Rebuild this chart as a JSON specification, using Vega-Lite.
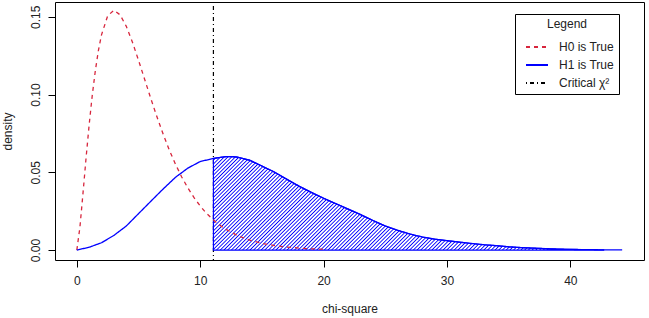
{
  "$schema": "https://vega.github.io/schema/vega-lite/v6.json",
  "width": 589,
  "height": 258,
  "autosize": {"type": "none"},
  "padding": {"left": 55, "top": 2, "right": 5, "bottom": 58},
  "background": "white",
  "config": {
    "view": {"stroke": "#000", "strokeWidth": 1},
    "font": "Liberation Sans",
    "axis": {"domain": false, "grid": false, "tickColor": "#000", "tickSize": 7, "labelFont": "Liberation Sans", "labelFontSize": 12, "labelColor": "#222", "titleFont": "Liberation Sans", "titleFontSize": 12, "titleFontWeight": "normal", "titleColor": "#222"}
  },
  "datasets": {
    "crit": [{"series": "Critical χ²", "x": 11.07}],
    "curves": [
      {"series": "H0 is True", "x": 0, "y": 0},
      {"series": "H0 is True", "x": 0.25, "y": 0.0147},
      {"series": "H0 is True", "x": 0.5, "y": 0.0366},
      {"series": "H0 is True", "x": 0.75, "y": 0.0594},
      {"series": "H0 is True", "x": 1, "y": 0.0807},
      {"series": "H0 is True", "x": 1.25, "y": 0.0995},
      {"series": "H0 is True", "x": 1.5, "y": 0.1154},
      {"series": "H0 is True", "x": 1.75, "y": 0.1284},
      {"series": "H0 is True", "x": 2, "y": 0.1384},
      {"series": "H0 is True", "x": 2.5, "y": 0.1506},
      {"series": "H0 is True", "x": 3, "y": 0.1542},
      {"series": "H0 is True", "x": 3.5, "y": 0.1513},
      {"series": "H0 is True", "x": 4, "y": 0.144},
      {"series": "H0 is True", "x": 4.5, "y": 0.1338},
      {"series": "H0 is True", "x": 5, "y": 0.122},
      {"series": "H0 is True", "x": 5.5, "y": 0.1097},
      {"series": "H0 is True", "x": 6, "y": 0.0973},
      {"series": "H0 is True", "x": 6.5, "y": 0.0855},
      {"series": "H0 is True", "x": 7, "y": 0.0744},
      {"series": "H0 is True", "x": 7.5, "y": 0.0642},
      {"series": "H0 is True", "x": 8, "y": 0.0551},
      {"series": "H0 is True", "x": 8.5, "y": 0.047},
      {"series": "H0 is True", "x": 9, "y": 0.0399},
      {"series": "H0 is True", "x": 9.5, "y": 0.0337},
      {"series": "H0 is True", "x": 10, "y": 0.0283},
      {"series": "H0 is True", "x": 10.5, "y": 0.0237},
      {"series": "H0 is True", "x": 11, "y": 0.0198},
      {"series": "H0 is True", "x": 11.5, "y": 0.0165},
      {"series": "H0 is True", "x": 12, "y": 0.0137},
      {"series": "H0 is True", "x": 13, "y": 0.0094},
      {"series": "H0 is True", "x": 14, "y": 0.0064},
      {"series": "H0 is True", "x": 15, "y": 0.0043},
      {"series": "H0 is True", "x": 16, "y": 0.0029},
      {"series": "H0 is True", "x": 17, "y": 0.0019},
      {"series": "H0 is True", "x": 18, "y": 0.0013},
      {"series": "H0 is True", "x": 19, "y": 0.0008},
      {"series": "H0 is True", "x": 20.2, "y": 0.0005},
      {"series": "H1 is True", "x": 0, "y": 0},
      {"series": "H1 is True", "x": 1, "y": 0.0018},
      {"series": "H1 is True", "x": 2, "y": 0.0047},
      {"series": "H1 is True", "x": 3, "y": 0.0094},
      {"series": "H1 is True", "x": 4, "y": 0.0154},
      {"series": "H1 is True", "x": 5, "y": 0.0234},
      {"series": "H1 is True", "x": 6, "y": 0.0314},
      {"series": "H1 is True", "x": 7, "y": 0.0393},
      {"series": "H1 is True", "x": 8, "y": 0.0468},
      {"series": "H1 is True", "x": 9, "y": 0.0527},
      {"series": "H1 is True", "x": 10, "y": 0.0569},
      {"series": "H1 is True", "x": 11, "y": 0.0588},
      {"series": "H1 is True", "x": 12, "y": 0.06},
      {"series": "H1 is True", "x": 12.5, "y": 0.0601},
      {"series": "H1 is True", "x": 13, "y": 0.0598},
      {"series": "H1 is True", "x": 14, "y": 0.0578},
      {"series": "H1 is True", "x": 15, "y": 0.054},
      {"series": "H1 is True", "x": 16, "y": 0.0502},
      {"series": "H1 is True", "x": 17, "y": 0.0456},
      {"series": "H1 is True", "x": 18, "y": 0.0411},
      {"series": "H1 is True", "x": 19, "y": 0.0371},
      {"series": "H1 is True", "x": 20, "y": 0.0333},
      {"series": "H1 is True", "x": 21, "y": 0.0298},
      {"series": "H1 is True", "x": 22, "y": 0.0263},
      {"series": "H1 is True", "x": 23, "y": 0.0228},
      {"series": "H1 is True", "x": 24, "y": 0.019},
      {"series": "H1 is True", "x": 25, "y": 0.0155},
      {"series": "H1 is True", "x": 26, "y": 0.0127},
      {"series": "H1 is True", "x": 27, "y": 0.0103},
      {"series": "H1 is True", "x": 28, "y": 0.0084},
      {"series": "H1 is True", "x": 29, "y": 0.0070},
      {"series": "H1 is True", "x": 30, "y": 0.0060},
      {"series": "H1 is True", "x": 31, "y": 0.0051},
      {"series": "H1 is True", "x": 32, "y": 0.0042},
      {"series": "H1 is True", "x": 33, "y": 0.0034},
      {"series": "H1 is True", "x": 34, "y": 0.0028},
      {"series": "H1 is True", "x": 35, "y": 0.0021},
      {"series": "H1 is True", "x": 36, "y": 0.0016},
      {"series": "H1 is True", "x": 37, "y": 0.0012},
      {"series": "H1 is True", "x": 38, "y": 0.0009},
      {"series": "H1 is True", "x": 39, "y": 0.0006},
      {"series": "H1 is True", "x": 40, "y": 0.0004},
      {"series": "H1 is True", "x": 41, "y": 0.0003},
      {"series": "H1 is True", "x": 42, "y": 0.0002},
      {"series": "H1 is True", "x": 43, "y": 0.0001},
      {"series": "H1 is True", "x": 44.2, "y": 0.0001}
    ],
    "shade": [
      {"x": 11.07, "y": 0.0589},
      {"x": 12, "y": 0.06},
      {"x": 12.5, "y": 0.0601},
      {"x": 13, "y": 0.0598},
      {"x": 14, "y": 0.0578},
      {"x": 15, "y": 0.054},
      {"x": 16, "y": 0.0502},
      {"x": 17, "y": 0.0456},
      {"x": 18, "y": 0.0411},
      {"x": 19, "y": 0.0371},
      {"x": 20, "y": 0.0333},
      {"x": 21, "y": 0.0298},
      {"x": 22, "y": 0.0263},
      {"x": 23, "y": 0.0228},
      {"x": 24, "y": 0.019},
      {"x": 25, "y": 0.0155},
      {"x": 26, "y": 0.0127},
      {"x": 27, "y": 0.0103},
      {"x": 28, "y": 0.0084},
      {"x": 29, "y": 0.0070},
      {"x": 30, "y": 0.0060},
      {"x": 31, "y": 0.0051},
      {"x": 32, "y": 0.0042},
      {"x": 33, "y": 0.0034},
      {"x": 34, "y": 0.0028},
      {"x": 35, "y": 0.0021},
      {"x": 36, "y": 0.0016},
      {"x": 37, "y": 0.0012},
      {"x": 38, "y": 0.0009},
      {"x": 39, "y": 0.0006},
      {"x": 40, "y": 0.0004},
      {"x": 41, "y": 0.0003},
      {"x": 42, "y": 0.0002},
      {"x": 42.7, "y": 0.0002}
    ]
  },
  "layer": [
    {
      "data": {"name": "crit"},
      "mark": {"type": "rule", "strokeWidth": 1.2},
      "encoding": {
        "x": {"field": "x", "type": "quantitative", "scale": {"domain": [-1.77, 45.97], "nice": false, "zero": false}, "axis": {"values": [0, 10, 20, 30, 40], "labelPadding": 8, "title": "chi-square", "titleY": 48, "titleBaseline": "middle"}},
        "color": {"field": "series", "type": "nominal", "scale": {"domain": ["H0 is True", "H1 is True", "Critical χ²"], "range": ["#d7263d", "#0000ff", "#000000"]},
          "legend": {"title": "Legend", "orient": "none", "legendX": 460, "legendY": 12, "strokeColor": "#000", "fillColor": "#fff", "padding": 5, "symbolType": "stroke", "symbolSize": 484, "symbolStrokeWidth": 1.8, "symbolOffset": 5, "labelOffset": 10, "labelFont": "Liberation Sans", "labelFontSize": 12, "labelColor": "#222", "titleFont": "Liberation Sans", "titleFontSize": 12, "titleFontWeight": "normal", "titleColor": "#222", "titleAnchor": "middle", "titlePadding": 4, "rowPadding": -5}},
        "strokeDash": {"field": "series", "type": "nominal", "scale": {"domain": ["H0 is True", "H1 is True", "Critical χ²"], "range": [[4, 4], [1, 0], [1, 3, 4, 3]]},
          "legend": {"title": "Legend", "orient": "none", "legendX": 460, "legendY": 12, "strokeColor": "#000", "fillColor": "#fff", "padding": 5, "symbolType": "stroke", "symbolSize": 484, "symbolStrokeWidth": 1.8, "symbolOffset": 5, "labelOffset": 10, "labelFont": "Liberation Sans", "labelFontSize": 12, "labelColor": "#222", "titleFont": "Liberation Sans", "titleFontSize": 12, "titleFontWeight": "normal", "titleColor": "#222", "titleAnchor": "middle", "titlePadding": 4, "rowPadding": -5}}
      }
    },
    {
      "data": {"name": "shade"},
      "mark": {"type": "area", "stroke": "#0000ff", "strokeWidth": 1.2,
        "fill": {"gradient": "linear", "x1": 0, "y1": 0, "x2": 1.2, "y2": 0.2874, "stops": [
          {"offset":0,"color":"#00f"},{"offset":0.0025,"color":"#fff"},{"offset":0.005,"color":"#fff"},{"offset":0.0075,"color":"#00f"},{"offset":0.01,"color":"#fff"},{"offset":0.0125,"color":"#fff"},{"offset":0.015,"color":"#00f"},{"offset":0.0175,"color":"#fff"},{"offset":0.02,"color":"#fff"},{"offset":0.0225,"color":"#00f"},{"offset":0.025,"color":"#fff"},{"offset":0.0275,"color":"#fff"},
          {"offset":0.03,"color":"#00f"},{"offset":0.0325,"color":"#fff"},{"offset":0.035,"color":"#fff"},{"offset":0.0375,"color":"#00f"},{"offset":0.04,"color":"#fff"},{"offset":0.0425,"color":"#fff"},{"offset":0.045,"color":"#00f"},{"offset":0.0475,"color":"#fff"},{"offset":0.05,"color":"#fff"},{"offset":0.0525,"color":"#00f"},{"offset":0.055,"color":"#fff"},{"offset":0.0575,"color":"#fff"},
          {"offset":0.06,"color":"#00f"},{"offset":0.0625,"color":"#fff"},{"offset":0.065,"color":"#fff"},{"offset":0.0675,"color":"#00f"},{"offset":0.07,"color":"#fff"},{"offset":0.0725,"color":"#fff"},{"offset":0.075,"color":"#00f"},{"offset":0.0775,"color":"#fff"},{"offset":0.08,"color":"#fff"},{"offset":0.0825,"color":"#00f"},{"offset":0.085,"color":"#fff"},{"offset":0.0875,"color":"#fff"},
          {"offset":0.09,"color":"#00f"},{"offset":0.0925,"color":"#fff"},{"offset":0.095,"color":"#fff"},{"offset":0.0975,"color":"#00f"},{"offset":0.1,"color":"#fff"},{"offset":0.1025,"color":"#fff"},{"offset":0.105,"color":"#00f"},{"offset":0.1075,"color":"#fff"},{"offset":0.11,"color":"#fff"},{"offset":0.1125,"color":"#00f"},{"offset":0.115,"color":"#fff"},{"offset":0.1175,"color":"#fff"},
          {"offset":0.12,"color":"#00f"},{"offset":0.1225,"color":"#fff"},{"offset":0.125,"color":"#fff"},{"offset":0.1275,"color":"#00f"},{"offset":0.13,"color":"#fff"},{"offset":0.1325,"color":"#fff"},{"offset":0.135,"color":"#00f"},{"offset":0.1375,"color":"#fff"},{"offset":0.14,"color":"#fff"},{"offset":0.1425,"color":"#00f"},{"offset":0.145,"color":"#fff"},{"offset":0.1475,"color":"#fff"},
          {"offset":0.15,"color":"#00f"},{"offset":0.1525,"color":"#fff"},{"offset":0.155,"color":"#fff"},{"offset":0.1575,"color":"#00f"},{"offset":0.16,"color":"#fff"},{"offset":0.1625,"color":"#fff"},{"offset":0.165,"color":"#00f"},{"offset":0.1675,"color":"#fff"},{"offset":0.17,"color":"#fff"},{"offset":0.1725,"color":"#00f"},{"offset":0.175,"color":"#fff"},{"offset":0.1775,"color":"#fff"},
          {"offset":0.18,"color":"#00f"},{"offset":0.1825,"color":"#fff"},{"offset":0.185,"color":"#fff"},{"offset":0.1875,"color":"#00f"},{"offset":0.19,"color":"#fff"},{"offset":0.1925,"color":"#fff"},{"offset":0.195,"color":"#00f"},{"offset":0.1975,"color":"#fff"},{"offset":0.2,"color":"#fff"},{"offset":0.2025,"color":"#00f"},{"offset":0.205,"color":"#fff"},{"offset":0.2075,"color":"#fff"},
          {"offset":0.21,"color":"#00f"},{"offset":0.2125,"color":"#fff"},{"offset":0.215,"color":"#fff"},{"offset":0.2175,"color":"#00f"},{"offset":0.22,"color":"#fff"},{"offset":0.2225,"color":"#fff"},{"offset":0.225,"color":"#00f"},{"offset":0.2275,"color":"#fff"},{"offset":0.23,"color":"#fff"},{"offset":0.2325,"color":"#00f"},{"offset":0.235,"color":"#fff"},{"offset":0.2375,"color":"#fff"},
          {"offset":0.24,"color":"#00f"},{"offset":0.2425,"color":"#fff"},{"offset":0.245,"color":"#fff"},{"offset":0.2475,"color":"#00f"},{"offset":0.25,"color":"#fff"},{"offset":0.2525,"color":"#fff"},{"offset":0.255,"color":"#00f"},{"offset":0.2575,"color":"#fff"},{"offset":0.26,"color":"#fff"},{"offset":0.2625,"color":"#00f"},{"offset":0.265,"color":"#fff"},{"offset":0.2675,"color":"#fff"},
          {"offset":0.27,"color":"#00f"},{"offset":0.2725,"color":"#fff"},{"offset":0.275,"color":"#fff"},{"offset":0.2775,"color":"#00f"},{"offset":0.28,"color":"#fff"},{"offset":0.2825,"color":"#fff"},{"offset":0.285,"color":"#00f"},{"offset":0.2875,"color":"#fff"},{"offset":0.29,"color":"#fff"},{"offset":0.2925,"color":"#00f"},{"offset":0.295,"color":"#fff"},{"offset":0.2975,"color":"#fff"},
          {"offset":0.3,"color":"#00f"},{"offset":0.3025,"color":"#fff"},{"offset":0.305,"color":"#fff"},{"offset":0.3075,"color":"#00f"},{"offset":0.31,"color":"#fff"},{"offset":0.3125,"color":"#fff"},{"offset":0.315,"color":"#00f"},{"offset":0.3175,"color":"#fff"},{"offset":0.32,"color":"#fff"},{"offset":0.3225,"color":"#00f"},{"offset":0.325,"color":"#fff"},{"offset":0.3275,"color":"#fff"},
          {"offset":0.33,"color":"#00f"},{"offset":0.3325,"color":"#fff"},{"offset":0.335,"color":"#fff"},{"offset":0.3375,"color":"#00f"},{"offset":0.34,"color":"#fff"},{"offset":0.3425,"color":"#fff"},{"offset":0.345,"color":"#00f"},{"offset":0.3475,"color":"#fff"},{"offset":0.35,"color":"#fff"},{"offset":0.3525,"color":"#00f"},{"offset":0.355,"color":"#fff"},{"offset":0.3575,"color":"#fff"},
          {"offset":0.36,"color":"#00f"},{"offset":0.3625,"color":"#fff"},{"offset":0.365,"color":"#fff"},{"offset":0.3675,"color":"#00f"},{"offset":0.37,"color":"#fff"},{"offset":0.3725,"color":"#fff"},{"offset":0.375,"color":"#00f"},{"offset":0.3775,"color":"#fff"},{"offset":0.38,"color":"#fff"},{"offset":0.3825,"color":"#00f"},{"offset":0.385,"color":"#fff"},{"offset":0.3875,"color":"#fff"},
          {"offset":0.39,"color":"#00f"},{"offset":0.3925,"color":"#fff"},{"offset":0.395,"color":"#fff"},{"offset":0.3975,"color":"#00f"},{"offset":0.4,"color":"#fff"},{"offset":0.4025,"color":"#fff"},{"offset":0.405,"color":"#00f"},{"offset":0.4075,"color":"#fff"},{"offset":0.41,"color":"#fff"},{"offset":0.4125,"color":"#00f"},{"offset":0.415,"color":"#fff"},{"offset":0.4175,"color":"#fff"},
          {"offset":0.42,"color":"#00f"},{"offset":0.4225,"color":"#fff"},{"offset":0.425,"color":"#fff"},{"offset":0.4275,"color":"#00f"},{"offset":0.43,"color":"#fff"},{"offset":0.4325,"color":"#fff"},{"offset":0.435,"color":"#00f"},{"offset":0.4375,"color":"#fff"},{"offset":0.44,"color":"#fff"},{"offset":0.4425,"color":"#00f"},{"offset":0.445,"color":"#fff"},{"offset":0.4475,"color":"#fff"},
          {"offset":0.45,"color":"#00f"},{"offset":0.4525,"color":"#fff"},{"offset":0.455,"color":"#fff"},{"offset":0.4575,"color":"#00f"},{"offset":0.46,"color":"#fff"},{"offset":0.4625,"color":"#fff"},{"offset":0.465,"color":"#00f"},{"offset":0.4675,"color":"#fff"},{"offset":0.47,"color":"#fff"},{"offset":0.4725,"color":"#00f"},{"offset":0.475,"color":"#fff"},{"offset":0.4775,"color":"#fff"},
          {"offset":0.48,"color":"#00f"},{"offset":0.4825,"color":"#fff"},{"offset":0.485,"color":"#fff"},{"offset":0.4875,"color":"#00f"},{"offset":0.49,"color":"#fff"},{"offset":0.4925,"color":"#fff"},{"offset":0.495,"color":"#00f"},{"offset":0.4975,"color":"#fff"},{"offset":0.5,"color":"#fff"},{"offset":0.5025,"color":"#00f"},{"offset":0.505,"color":"#fff"},{"offset":0.5075,"color":"#fff"},
          {"offset":0.51,"color":"#00f"},{"offset":0.5125,"color":"#fff"},{"offset":0.515,"color":"#fff"},{"offset":0.5175,"color":"#00f"},{"offset":0.52,"color":"#fff"},{"offset":0.5225,"color":"#fff"},{"offset":0.525,"color":"#00f"},{"offset":0.5275,"color":"#fff"},{"offset":0.53,"color":"#fff"},{"offset":0.5325,"color":"#00f"},{"offset":0.535,"color":"#fff"},{"offset":0.5375,"color":"#fff"},
          {"offset":0.54,"color":"#00f"},{"offset":0.5425,"color":"#fff"},{"offset":0.545,"color":"#fff"},{"offset":0.5475,"color":"#00f"},{"offset":0.55,"color":"#fff"},{"offset":0.5525,"color":"#fff"},{"offset":0.555,"color":"#00f"},{"offset":0.5575,"color":"#fff"},{"offset":0.56,"color":"#fff"},{"offset":0.5625,"color":"#00f"},{"offset":0.565,"color":"#fff"},{"offset":0.5675,"color":"#fff"},
          {"offset":0.57,"color":"#00f"},{"offset":0.5725,"color":"#fff"},{"offset":0.575,"color":"#fff"},{"offset":0.5775,"color":"#00f"},{"offset":0.58,"color":"#fff"},{"offset":0.5825,"color":"#fff"},{"offset":0.585,"color":"#00f"},{"offset":0.5875,"color":"#fff"},{"offset":0.59,"color":"#fff"},{"offset":0.5925,"color":"#00f"},{"offset":0.595,"color":"#fff"},{"offset":0.5975,"color":"#fff"},
          {"offset":0.6,"color":"#00f"},{"offset":0.6025,"color":"#fff"},{"offset":0.605,"color":"#fff"},{"offset":0.6075,"color":"#00f"},{"offset":0.61,"color":"#fff"},{"offset":0.6125,"color":"#fff"},{"offset":0.615,"color":"#00f"},{"offset":0.6175,"color":"#fff"},{"offset":0.62,"color":"#fff"},{"offset":0.6225,"color":"#00f"},{"offset":0.625,"color":"#fff"},{"offset":0.6275,"color":"#fff"},
          {"offset":0.63,"color":"#00f"},{"offset":0.6325,"color":"#fff"},{"offset":0.635,"color":"#fff"},{"offset":0.6375,"color":"#00f"},{"offset":0.64,"color":"#fff"},{"offset":0.6425,"color":"#fff"},{"offset":0.645,"color":"#00f"},{"offset":0.6475,"color":"#fff"},{"offset":0.65,"color":"#fff"},{"offset":0.6525,"color":"#00f"},{"offset":0.655,"color":"#fff"},{"offset":0.6575,"color":"#fff"},
          {"offset":0.66,"color":"#00f"},{"offset":0.6625,"color":"#fff"},{"offset":0.665,"color":"#fff"},{"offset":0.6675,"color":"#00f"},{"offset":0.67,"color":"#fff"},{"offset":0.6725,"color":"#fff"},{"offset":0.675,"color":"#00f"},{"offset":0.6775,"color":"#fff"},{"offset":0.68,"color":"#fff"},{"offset":0.6825,"color":"#00f"},{"offset":0.685,"color":"#fff"},{"offset":0.6875,"color":"#fff"},
          {"offset":0.69,"color":"#00f"},{"offset":0.6925,"color":"#fff"},{"offset":0.695,"color":"#fff"},{"offset":0.6975,"color":"#00f"},{"offset":0.7,"color":"#fff"},{"offset":0.7025,"color":"#fff"},{"offset":0.705,"color":"#00f"},{"offset":0.7075,"color":"#fff"},{"offset":0.71,"color":"#fff"},{"offset":0.7125,"color":"#00f"},{"offset":0.715,"color":"#fff"},{"offset":0.7175,"color":"#fff"},
          {"offset":0.72,"color":"#00f"},{"offset":0.7225,"color":"#fff"},{"offset":0.725,"color":"#fff"},{"offset":0.7275,"color":"#00f"},{"offset":0.73,"color":"#fff"},{"offset":0.7325,"color":"#fff"},{"offset":0.735,"color":"#00f"},{"offset":0.7375,"color":"#fff"},{"offset":0.74,"color":"#fff"},{"offset":0.7425,"color":"#00f"},{"offset":0.745,"color":"#fff"},{"offset":0.7475,"color":"#fff"},
          {"offset":0.75,"color":"#00f"},{"offset":0.7525,"color":"#fff"},{"offset":0.755,"color":"#fff"},{"offset":0.7575,"color":"#00f"},{"offset":0.76,"color":"#fff"},{"offset":0.7625,"color":"#fff"},{"offset":0.765,"color":"#00f"},{"offset":0.7675,"color":"#fff"},{"offset":0.77,"color":"#fff"},{"offset":0.7725,"color":"#00f"},{"offset":0.775,"color":"#fff"},{"offset":0.7775,"color":"#fff"},
          {"offset":0.78,"color":"#00f"},{"offset":0.7825,"color":"#fff"},{"offset":0.785,"color":"#fff"},{"offset":0.7875,"color":"#00f"},{"offset":0.79,"color":"#fff"},{"offset":0.7925,"color":"#fff"},{"offset":0.795,"color":"#00f"},{"offset":0.7975,"color":"#fff"},{"offset":0.8,"color":"#fff"},{"offset":0.8025,"color":"#00f"},{"offset":0.805,"color":"#fff"},{"offset":0.8075,"color":"#fff"},
          {"offset":0.81,"color":"#00f"},{"offset":0.8125,"color":"#fff"},{"offset":0.815,"color":"#fff"},{"offset":0.8175,"color":"#00f"},{"offset":0.82,"color":"#fff"},{"offset":0.8225,"color":"#fff"},{"offset":0.825,"color":"#00f"},{"offset":0.8275,"color":"#fff"},{"offset":0.83,"color":"#fff"},{"offset":0.8325,"color":"#00f"},{"offset":0.835,"color":"#fff"},{"offset":0.8375,"color":"#fff"},
          {"offset":0.84,"color":"#00f"},{"offset":0.8425,"color":"#fff"},{"offset":0.845,"color":"#fff"},{"offset":0.8475,"color":"#00f"},{"offset":0.85,"color":"#fff"},{"offset":0.8525,"color":"#fff"},{"offset":0.855,"color":"#00f"},{"offset":0.8575,"color":"#fff"},{"offset":0.86,"color":"#fff"},{"offset":0.8625,"color":"#00f"},{"offset":0.865,"color":"#fff"},{"offset":0.8675,"color":"#fff"},
          {"offset":0.87,"color":"#00f"},{"offset":0.8725,"color":"#fff"},{"offset":0.875,"color":"#fff"},{"offset":0.8775,"color":"#00f"},{"offset":0.88,"color":"#fff"},{"offset":0.8825,"color":"#fff"},{"offset":0.885,"color":"#00f"},{"offset":0.8875,"color":"#fff"},{"offset":0.89,"color":"#fff"},{"offset":0.8925,"color":"#00f"},{"offset":0.895,"color":"#fff"},{"offset":0.8975,"color":"#fff"},
          {"offset":0.9,"color":"#00f"},{"offset":0.9025,"color":"#fff"},{"offset":0.905,"color":"#fff"},{"offset":0.9075,"color":"#00f"},{"offset":0.91,"color":"#fff"},{"offset":0.9125,"color":"#fff"},{"offset":0.915,"color":"#00f"},{"offset":0.9175,"color":"#fff"},{"offset":0.92,"color":"#fff"},{"offset":0.9225,"color":"#00f"},{"offset":0.925,"color":"#fff"},{"offset":0.9275,"color":"#fff"},
          {"offset":0.93,"color":"#00f"},{"offset":0.9325,"color":"#fff"},{"offset":0.935,"color":"#fff"},{"offset":0.9375,"color":"#00f"},{"offset":0.94,"color":"#fff"},{"offset":0.9425,"color":"#fff"},{"offset":0.945,"color":"#00f"},{"offset":0.9475,"color":"#fff"},{"offset":0.95,"color":"#fff"},{"offset":0.9525,"color":"#00f"},{"offset":0.955,"color":"#fff"},{"offset":0.9575,"color":"#fff"},
          {"offset":0.96,"color":"#00f"},{"offset":0.9625,"color":"#fff"},{"offset":0.965,"color":"#fff"},{"offset":0.9675,"color":"#00f"},{"offset":0.97,"color":"#fff"},{"offset":0.9725,"color":"#fff"},{"offset":0.975,"color":"#00f"},{"offset":0.9775,"color":"#fff"},{"offset":0.98,"color":"#fff"},{"offset":0.9825,"color":"#00f"},{"offset":0.985,"color":"#fff"},{"offset":0.9875,"color":"#fff"}
        ]}},
      "encoding": {
        "x": {"field": "x", "type": "quantitative"},
        "y": {"field": "y", "type": "quantitative", "scale": {"domain": [-0.0064, 0.1595], "nice": false, "zero": false}, "axis": {"values": [0, 0.05, 0.1, 0.15], "format": ".2f", "labelAngle": 270, "labelAlign": "center", "labelBaseline": "bottom", "labelPadding": 6, "title": "density", "titleX": -48, "titleY": 129, "titleAngle": 270, "titleAlign": "center", "titleBaseline": "middle"}},
        "y2": {"datum": 0}
      }
    },
    {
      "data": {"name": "curves"},
      "mark": {"type": "line", "strokeWidth": 1.3},
      "encoding": {
        "x": {"field": "x", "type": "quantitative"},
        "y": {"field": "y", "type": "quantitative"},
        "color": {"field": "series", "type": "nominal"},
        "strokeDash": {"field": "series", "type": "nominal"}
      }
    }
  ]
}
